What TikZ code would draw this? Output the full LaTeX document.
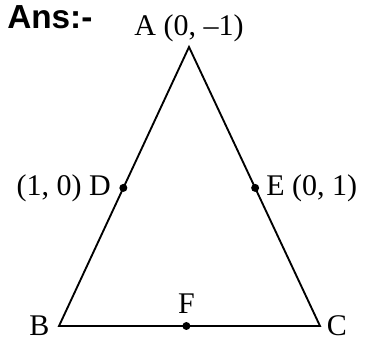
\documentclass[tikz,border=0pt]{standalone}
\usepackage{fontspec}
\setmainfont{Liberation Serif}
\newfontfamily\anssans{Liberation Sans}
\usepackage{tikz}
\usetikzlibrary{positioning, calc}

\begin{document}
\begin{tikzpicture}[x=0.75pt, y=-0.75pt,
    etichetta/.style={font=\fontsize{22.5}{22.5}\selectfont, inner sep=0pt},
    punto/.style={circle, fill=black, inner sep=0pt, minimum size=6pt}]
                \useasboundingbox (0,0) rectangle (367,341);

                % Vertici
                \coordinate (A) at (189,47);
                \coordinate (B) at (59,326);
                \coordinate (C) at (320,326);

                % Lati
                \draw[line width=1.4pt, line join=miter] (A) -- (B) -- (C) -- cycle;

                % Punti medi
                \node[punto] (D) at ($(A)!0.505!(B)$) {};
                \node[punto] (E) at ($(A)!0.505!(C)$) {};
                \node[punto] (F) at ($(B)!0.488!(C)$) {};

                % Etichette
                \node[anchor=north west, inner sep=0pt, font=\anssans\bfseries\fontsize{25}{25}\selectfont] (ans) at (7,5) {Ans:-};
                \node[etichetta] (lA) at (189,28) {A (0, –1)};
                \node[etichetta, left=6pt of D] (lD) {(1, 0) D};
                \node[etichetta, right=5pt of E] (lE) {E (0, 1)};
                \node[etichetta, left=7pt of B] (lB) {B};
                \node[etichetta, right=5pt of C] (lC) {C};
                \node[etichetta, above=6pt of F] (lF) {F};
            \end{tikzpicture}
\end{document}
